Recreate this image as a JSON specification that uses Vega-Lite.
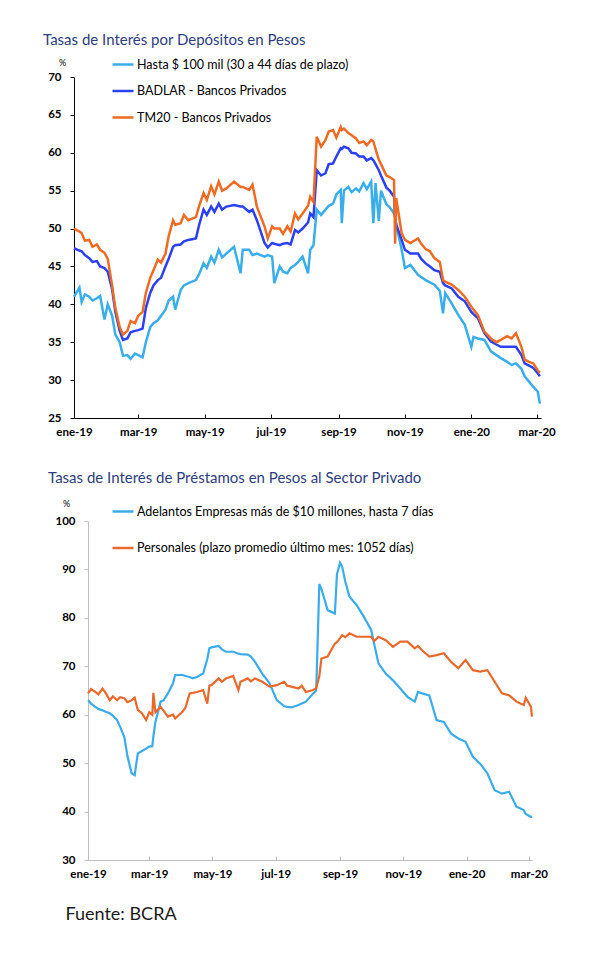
{
  "$schema": "https://vega.github.io/schema/vega-lite/v6.json",
  "background": "white",
  "padding": {"left": 43, "top": 32, "right": 10, "bottom": 10},
  "spacing": 33,
  "resolve": {"scale": {"color": "independent"}, "legend": {"color": "independent"}},
  "config": {
    "font": "Lato",
    "view": {"stroke": null},
    "axis": {"labelFont": "Lato", "titleFont": "Lato", "grid": false, "labelOverlap": false, "labelFlush": false},
    "legend": {"labelFont": "Lato"},
    "title": {"font": "Lato"}
  },
  "datasets": {
    "dep": [
      {"d":"2019-01-01","h":41.0,"b":47.4,"t":50.0},
      {"d":"2019-01-06","h":42.2,"b":47.1,"t":49.6},
      {"d":"2019-01-08","h":40.3,"b":47.0,"t":49.4},
      {"d":"2019-01-11","h":41.3,"b":46.5,"t":48.4},
      {"d":"2019-01-15","h":41.0,"b":46.1,"t":48.5},
      {"d":"2019-01-18","h":40.5,"b":45.6,"t":47.6},
      {"d":"2019-01-22","h":40.8,"b":45.7,"t":47.9},
      {"d":"2019-01-25","h":41.1,"b":45.0,"t":47.2},
      {"d":"2019-01-29","h":38.0,"b":44.8,"t":46.8},
      {"d":"2019-02-01","h":40.0,"b":44.3,"t":46.0},
      {"d":"2019-02-05","h":38.5,"b":42.0,"t":42.5},
      {"d":"2019-02-08","h":36.0,"b":39.0,"t":39.5},
      {"d":"2019-02-12","h":35.0,"b":36.5,"t":37.0},
      {"d":"2019-02-15","h":33.2,"b":35.3,"t":36.0},
      {"d":"2019-02-19","h":33.3,"b":35.5,"t":36.5},
      {"d":"2019-02-22","h":32.8,"b":36.3,"t":37.8},
      {"d":"2019-02-26","h":33.5,"b":36.5,"t":37.5},
      {"d":"2019-03-01","h":33.3,"b":36.6,"t":38.5},
      {"d":"2019-03-05","h":33.0,"b":36.8,"t":39.0},
      {"d":"2019-03-08","h":35.0,"b":39.5,"t":41.5},
      {"d":"2019-03-12","h":37.0,"b":41.5,"t":43.5},
      {"d":"2019-03-15","h":37.5,"b":42.5,"t":44.5},
      {"d":"2019-03-19","h":37.9,"b":43.2,"t":45.9},
      {"d":"2019-03-22","h":38.5,"b":43.5,"t":45.5},
      {"d":"2019-03-26","h":39.3,"b":45.0,"t":46.7},
      {"d":"2019-03-29","h":40.5,"b":46.0,"t":49.0},
      {"d":"2019-04-02","h":41.0,"b":47.6,"t":51.1},
      {"d":"2019-04-04","h":39.3,"b":47.8,"t":50.5},
      {"d":"2019-04-09","h":41.9,"b":47.9,"t":50.7},
      {"d":"2019-04-12","h":42.5,"b":48.3,"t":51.8},
      {"d":"2019-04-16","h":42.8,"b":48.5,"t":51.1},
      {"d":"2019-04-23","h":43.2,"b":48.7,"t":51.5},
      {"d":"2019-04-26","h":44.0,"b":50.5,"t":53.0},
      {"d":"2019-04-30","h":45.4,"b":52.5,"t":54.7},
      {"d":"2019-05-03","h":44.8,"b":51.8,"t":53.8},
      {"d":"2019-05-07","h":46.3,"b":52.9,"t":55.6},
      {"d":"2019-05-10","h":45.5,"b":52.2,"t":54.5},
      {"d":"2019-05-14","h":47.2,"b":53.3,"t":56.2},
      {"d":"2019-05-17","h":46.2,"b":52.5,"t":55.0},
      {"d":"2019-05-21","h":46.7,"b":52.9,"t":55.3},
      {"d":"2019-05-28","h":47.6,"b":53.1,"t":56.2},
      {"d":"2019-06-03","h":44.1,"b":52.9,"t":55.5},
      {"d":"2019-06-05","h":47.2,"b":52.9,"t":55.5},
      {"d":"2019-06-11","h":47.2,"b":52.2,"t":55.1},
      {"d":"2019-06-14","h":46.5,"b":52.5,"t":55.8},
      {"d":"2019-06-18","h":46.7,"b":51.1,"t":52.9},
      {"d":"2019-06-25","h":46.3,"b":48.1,"t":50.3},
      {"d":"2019-06-28","h":46.5,"b":47.5,"t":48.7},
      {"d":"2019-07-02","h":46.3,"b":48.1,"t":50.3},
      {"d":"2019-07-04","h":42.8,"b":48.0,"t":50.0},
      {"d":"2019-07-09","h":45.0,"b":47.8,"t":50.0},
      {"d":"2019-07-12","h":44.3,"b":48.0,"t":49.3},
      {"d":"2019-07-16","h":44.1,"b":48.1,"t":50.3},
      {"d":"2019-07-19","h":44.8,"b":47.9,"t":49.6},
      {"d":"2019-07-23","h":45.2,"b":49.8,"t":52.0},
      {"d":"2019-07-26","h":45.6,"b":49.5,"t":51.2},
      {"d":"2019-07-30","h":46.3,"b":50.0,"t":52.0},
      {"d":"2019-08-04","h":44.1,"b":50.8,"t":53.0},
      {"d":"2019-08-06","h":47.2,"b":52.0,"t":54.2},
      {"d":"2019-08-09","h":47.8,"b":51.5,"t":53.5},
      {"d":"2019-08-12","h":52.5,"b":57.7,"t":62.1},
      {"d":"2019-08-16","h":51.8,"b":57.0,"t":60.8},
      {"d":"2019-08-20","h":52.5,"b":57.3,"t":61.7},
      {"d":"2019-08-23","h":53.0,"b":58.5,"t":62.8},
      {"d":"2019-08-27","h":53.3,"b":58.6,"t":63.0},
      {"d":"2019-08-30","h":54.5,"b":59.5,"t":62.0},
      {"d":"2019-09-03","h":55.1,"b":60.6,"t":63.4},
      {"d":"2019-09-04","h":50.7,"b":60.5,"t":63.0},
      {"d":"2019-09-06","h":55.0,"b":60.8,"t":63.2},
      {"d":"2019-09-10","h":55.5,"b":60.6,"t":62.6},
      {"d":"2019-09-13","h":54.8,"b":60.0,"t":62.3},
      {"d":"2019-09-17","h":55.3,"b":59.9,"t":61.9},
      {"d":"2019-09-20","h":54.9,"b":59.5,"t":61.3},
      {"d":"2019-09-24","h":56.0,"b":59.5,"t":61.5},
      {"d":"2019-09-27","h":55.2,"b":59.0,"t":61.0},
      {"d":"2019-10-01","h":56.2,"b":59.3,"t":61.7},
      {"d":"2019-10-03","h":50.7,"b":59.0,"t":61.5},
      {"d":"2019-10-05","h":56.0,"b":58.5,"t":60.5},
      {"d":"2019-10-08","h":51.0,"b":57.7,"t":59.1},
      {"d":"2019-10-10","h":55.0,"b":57.0,"t":58.5},
      {"d":"2019-10-15","h":53.2,"b":55.4,"t":57.0},
      {"d":"2019-10-18","h":52.8,"b":55.0,"t":56.8},
      {"d":"2019-10-22","h":52.0,"b":54.2,"t":56.4},
      {"d":"2019-10-23","h":51.5,"b":51.5,"t":48.0},
      {"d":"2019-10-24","h":50.5,"b":50.5,"t":54.0},
      {"d":"2019-10-29","h":47.2,"b":48.5,"t":49.4},
      {"d":"2019-11-01","h":44.8,"b":47.2,"t":48.5},
      {"d":"2019-11-06","h":45.2,"b":46.7,"t":48.1},
      {"d":"2019-11-13","h":43.9,"b":46.7,"t":48.7},
      {"d":"2019-11-16","h":43.6,"b":46.0,"t":48.0},
      {"d":"2019-11-20","h":43.2,"b":45.4,"t":47.3},
      {"d":"2019-11-24","h":42.9,"b":45.0,"t":47.0},
      {"d":"2019-11-28","h":42.6,"b":44.5,"t":46.1},
      {"d":"2019-12-03","h":41.8,"b":44.3,"t":45.6},
      {"d":"2019-12-06","h":38.8,"b":42.8,"t":43.2},
      {"d":"2019-12-08","h":41.5,"b":42.5,"t":43.0},
      {"d":"2019-12-14","h":40.1,"b":42.1,"t":42.6},
      {"d":"2019-12-20","h":38.6,"b":41.0,"t":41.9},
      {"d":"2019-12-26","h":37.3,"b":40.4,"t":41.0},
      {"d":"2020-01-01","h":34.4,"b":39.0,"t":39.7},
      {"d":"2020-01-03","h":35.7,"b":38.7,"t":39.3},
      {"d":"2020-01-07","h":35.5,"b":38.2,"t":38.6},
      {"d":"2020-01-13","h":35.3,"b":36.2,"t":36.4},
      {"d":"2020-01-19","h":33.8,"b":35.1,"t":35.5},
      {"d":"2020-01-24","h":33.3,"b":34.7,"t":35.0},
      {"d":"2020-01-28","h":32.9,"b":34.4,"t":35.3},
      {"d":"2020-02-03","h":32.4,"b":34.4,"t":35.8},
      {"d":"2020-02-07","h":32.0,"b":34.4,"t":35.5},
      {"d":"2020-02-11","h":32.2,"b":34.4,"t":36.2},
      {"d":"2020-02-16","h":31.5,"b":33.3,"t":34.4},
      {"d":"2020-02-19","h":30.5,"b":32.2,"t":32.7},
      {"d":"2020-02-23","h":29.8,"b":31.9,"t":32.4},
      {"d":"2020-02-27","h":29.1,"b":31.6,"t":32.2},
      {"d":"2020-03-02","h":28.5,"b":30.9,"t":31.3},
      {"d":"2020-03-04","h":26.9,"b":30.5,"t":31.0}
    ],
    "pre": [
      {"d":"2019-01-01","a":63.0,"p":64.4},
      {"d":"2019-01-04","a":62.3,"p":65.3},
      {"d":"2019-01-08","a":61.6,"p":64.7},
      {"d":"2019-01-11","a":61.2,"p":64.2},
      {"d":"2019-01-15","a":60.9,"p":65.4},
      {"d":"2019-01-18","a":60.6,"p":64.5},
      {"d":"2019-01-22","a":60.3,"p":63.0},
      {"d":"2019-01-25","a":59.8,"p":63.8},
      {"d":"2019-01-29","a":58.9,"p":63.0},
      {"d":"2019-02-01","a":57.5,"p":63.6},
      {"d":"2019-02-05","a":55.4,"p":63.4},
      {"d":"2019-02-08","a":51.5,"p":62.6},
      {"d":"2019-02-12","a":47.9,"p":63.0},
      {"d":"2019-02-15","a":47.5,"p":63.5},
      {"d":"2019-02-18","a":52.0,"p":61.0},
      {"d":"2019-02-22","a":52.5,"p":60.3},
      {"d":"2019-02-26","a":53.0,"p":58.9},
      {"d":"2019-03-01","a":53.4,"p":60.5},
      {"d":"2019-03-04","a":53.5,"p":60.0},
      {"d":"2019-03-05","a":55.5,"p":64.5},
      {"d":"2019-03-07","a":58.5,"p":60.5},
      {"d":"2019-03-12","a":62.7,"p":61.6},
      {"d":"2019-03-15","a":63.0,"p":60.8},
      {"d":"2019-03-19","a":64.4,"p":59.6},
      {"d":"2019-03-24","a":66.5,"p":60.0},
      {"d":"2019-03-26","a":68.2,"p":59.2},
      {"d":"2019-04-02","a":68.2,"p":60.6},
      {"d":"2019-04-05","a":68.0,"p":61.5},
      {"d":"2019-04-09","a":67.8,"p":64.4},
      {"d":"2019-04-12","a":67.5,"p":64.5},
      {"d":"2019-04-16","a":67.8,"p":64.7},
      {"d":"2019-04-22","a":68.5,"p":65.1},
      {"d":"2019-04-26","a":71.5,"p":62.3},
      {"d":"2019-04-28","a":73.7,"p":66.0},
      {"d":"2019-04-30","a":73.9,"p":66.1},
      {"d":"2019-05-07","a":74.2,"p":67.5},
      {"d":"2019-05-10","a":73.5,"p":66.8},
      {"d":"2019-05-14","a":73.0,"p":67.5},
      {"d":"2019-05-21","a":73.0,"p":68.0},
      {"d":"2019-05-26","a":72.6,"p":65.1},
      {"d":"2019-05-28","a":72.5,"p":66.8},
      {"d":"2019-06-04","a":72.4,"p":67.5},
      {"d":"2019-06-07","a":72.0,"p":66.9},
      {"d":"2019-06-11","a":70.9,"p":67.5},
      {"d":"2019-06-18","a":68.5,"p":66.8},
      {"d":"2019-06-25","a":66.5,"p":65.8},
      {"d":"2019-07-02","a":63.0,"p":66.1},
      {"d":"2019-07-09","a":61.8,"p":66.8},
      {"d":"2019-07-12","a":61.6,"p":66.0},
      {"d":"2019-07-16","a":61.5,"p":65.8},
      {"d":"2019-07-23","a":62.0,"p":65.4},
      {"d":"2019-07-26","a":62.3,"p":66.0},
      {"d":"2019-07-30","a":62.7,"p":64.7},
      {"d":"2019-08-06","a":64.4,"p":65.1},
      {"d":"2019-08-09","a":65.0,"p":65.5},
      {"d":"2019-08-12","a":87.0,"p":68.0},
      {"d":"2019-08-14","a":86.0,"p":71.6},
      {"d":"2019-08-20","a":81.6,"p":72.0},
      {"d":"2019-08-27","a":80.9,"p":74.7},
      {"d":"2019-08-29","a":89.0,"p":75.0},
      {"d":"2019-09-01","a":91.4,"p":75.8},
      {"d":"2019-09-03","a":90.6,"p":76.4},
      {"d":"2019-09-06","a":87.5,"p":76.0},
      {"d":"2019-09-10","a":84.4,"p":76.8},
      {"d":"2019-09-17","a":82.6,"p":76.1},
      {"d":"2019-09-24","a":80.2,"p":76.1},
      {"d":"2019-10-01","a":77.5,"p":76.1},
      {"d":"2019-10-04","a":74.5,"p":75.2},
      {"d":"2019-10-08","a":70.6,"p":76.1},
      {"d":"2019-10-15","a":68.5,"p":75.4},
      {"d":"2019-10-22","a":67.1,"p":74.0},
      {"d":"2019-10-29","a":65.4,"p":75.1},
      {"d":"2019-11-05","a":63.7,"p":75.1},
      {"d":"2019-11-12","a":62.7,"p":73.7},
      {"d":"2019-11-15","a":64.7,"p":74.2},
      {"d":"2019-11-19","a":64.4,"p":73.3},
      {"d":"2019-11-26","a":64.0,"p":72.0},
      {"d":"2019-12-03","a":58.9,"p":72.3},
      {"d":"2019-12-10","a":58.5,"p":72.7},
      {"d":"2019-12-17","a":56.1,"p":70.9},
      {"d":"2019-12-24","a":55.1,"p":69.6},
      {"d":"2019-12-31","a":54.4,"p":71.3},
      {"d":"2020-01-07","a":51.3,"p":69.2},
      {"d":"2020-01-14","a":49.9,"p":68.9},
      {"d":"2020-01-21","a":47.9,"p":69.2},
      {"d":"2020-01-28","a":44.4,"p":66.8},
      {"d":"2020-02-04","a":43.7,"p":64.4},
      {"d":"2020-02-11","a":44.1,"p":64.0},
      {"d":"2020-02-18","a":41.0,"p":62.7},
      {"d":"2020-02-25","a":40.3,"p":62.0},
      {"d":"2020-02-27","a":39.5,"p":63.5},
      {"d":"2020-03-03","a":38.9,"p":61.6},
      {"d":"2020-03-04","a":39.0,"p":59.6}
    ]
  },
  "vconcat": [
    {
      "width": 467,
      "height": 341,
      "data": {"name": "dep"},
      "transform": [{"fold": ["h", "b", "t"], "as": ["s", "v"]}],
      "title": {"text": "Tasas de Interés por Depósitos en Pesos", "anchor": "start", "frame": "group", "dx": -31, "offset": 5, "fontSize": 15, "fontWeight": "normal", "color": "#2e3d7c"},
      "mark": {"type": "line", "strokeWidth": 2.5},
      "encoding": {
        "x": {
          "field": "d", "type": "temporal",
          "scale": {"type": "utc", "domain": [{"year": 2019, "month": 1, "date": 1, "utc": true}, {"year": 2020, "month": 3, "date": 5, "utc": true}]},
          "axis": {
            "title": null,
            "values": [{"year": 2019, "month": 1, "date": 1, "utc": true}, {"year": 2019, "month": 3, "date": 1, "utc": true}, {"year": 2019, "month": 5, "date": 1, "utc": true}, {"year": 2019, "month": 7, "date": 1, "utc": true}, {"year": 2019, "month": 9, "date": 1, "utc": true}, {"year": 2019, "month": 11, "date": 1, "utc": true}, {"year": 2020, "month": 1, "date": 1, "utc": true}, {"year": 2020, "month": 3, "date": 1, "utc": true}],
            "labelExpr": "['ene','feb','mar','abr','may','jun','jul','ago','sep','oct','nov','dic'][utcmonth(datum.value)] + '-' + utcFormat(datum.value, '%y')",
            "domainColor": "black", "tickColor": "black", "tickSize": -4, "labelPadding": 12,
            "labelFontWeight": "bold", "labelFontSize": 11.5, "labelColor": "black"
          }
        },
        "y": {
          "field": "v", "type": "quantitative",
          "scale": {"domain": [25, 70], "nice": false, "zero": false},
          "axis": {
            "title": "%", "titleAngle": 0, "titleX": -12, "titleY": -15, "titleAlign": "center", "titleBaseline": "middle", "titleFontSize": 9, "titleFontWeight": "normal", "titleColor": "black",
            "values": [25, 30, 35, 40, 45, 50, 55, 60, 65, 70],
            "domainColor": "black", "tickColor": "black", "tickSize": 4, "labelPadding": 9,
            "labelFontWeight": "bold", "labelFontSize": 11.5, "labelColor": "black"
          }
        },
        "color": {
          "field": "s", "type": "nominal",
          "scale": {"domain": ["h", "b", "t"], "range": ["#3aaeea", "#2b40f0", "#ee6b24"]},
          "legend": {
            "title": null, "orient": "none", "legendX": 37, "legendY": -24.5, "padding": 0,
            "symbolType": "stroke", "symbolSize": 441, "symbolStrokeWidth": 2.5,
            "labelFontSize": 12.5, "labelColor": "black", "labelOffset": 2, "rowPadding": 7.5, "labelLimit": 400,
            "labelExpr": "datum.value == 'h' ? 'Hasta $ 100 mil (30 a 44 días de plazo)' : datum.value == 'b' ? 'BADLAR - Bancos Privados' : 'TM20 - Bancos Privados'"
          }
        }
      }
    },
    {
      "width": 458,
      "height": 339,
      "data": {"name": "pre"},
      "transform": [{"fold": ["a", "p"], "as": ["s", "v"]}],
      "title": {"text": "Tasas de Interés de Préstamos en Pesos al Sector Privado", "anchor": "start", "frame": "group", "dx": -26, "offset": 13, "fontSize": 15, "fontWeight": "normal", "color": "#2e3d7c"},
      "mark": {"type": "line", "strokeWidth": 2.2},
      "encoding": {
        "x": {
          "field": "d", "type": "temporal",
          "scale": {"type": "utc", "range": [14, 458], "domain": [{"year": 2019, "month": 1, "date": 1, "utc": true}, {"year": 2020, "month": 3, "date": 4, "utc": true}]},
          "axis": {
            "title": "Fuente: BCRA", "titleX": -9, "titleY": 54, "titleAlign": "left", "titleBaseline": "middle", "titleFontSize": 18, "titleFontWeight": "normal", "titleColor": "#1a1a1a",
            "values": [{"year": 2019, "month": 1, "date": 1, "utc": true}, {"year": 2019, "month": 3, "date": 1, "utc": true}, {"year": 2019, "month": 5, "date": 1, "utc": true}, {"year": 2019, "month": 7, "date": 1, "utc": true}, {"year": 2019, "month": 9, "date": 1, "utc": true}, {"year": 2019, "month": 11, "date": 1, "utc": true}, {"year": 2020, "month": 1, "date": 1, "utc": true}, {"year": 2020, "month": 3, "date": 1, "utc": true}],
            "labelExpr": "['ene','feb','mar','abr','may','jun','jul','ago','sep','oct','nov','dic'][utcmonth(datum.value)] + '-' + utcFormat(datum.value, '%y')",
            "domainColor": "#bfbfbf", "tickColor": "#bfbfbf", "tickSize": -4, "labelPadding": 12,
            "labelFontWeight": "bold", "labelFontSize": 11.5, "labelColor": "black"
          }
        },
        "y": {
          "field": "v", "type": "quantitative",
          "scale": {"domain": [30, 100], "nice": false, "zero": false},
          "axis": {
            "offset": -14,
            "title": "%", "titleAngle": 0, "titleX": -22, "titleY": -18, "titleAlign": "center", "titleBaseline": "middle", "titleFontSize": 9, "titleFontWeight": "normal", "titleColor": "black",
            "values": [30, 40, 50, 60, 70, 80, 90, 100],
            "domainColor": "#bfbfbf", "tickColor": "#bfbfbf", "tickSize": 4, "labelPadding": 9,
            "labelFontWeight": "bold", "labelFontSize": 11.5, "labelColor": "black"
          }
        },
        "color": {
          "field": "s", "type": "nominal",
          "scale": {"domain": ["a", "p"], "range": ["#3aacec", "#e8692c"]},
          "legend": {
            "title": null, "orient": "none", "legendX": 37, "legendY": -21.5, "padding": 0,
            "symbolType": "stroke", "symbolSize": 441, "symbolStrokeWidth": 2.5,
            "labelFontSize": 12.5, "labelColor": "black", "labelOffset": 2, "rowPadding": 17.5, "labelLimit": 450,
            "labelExpr": "datum.value == 'a' ? 'Adelantos Empresas más de $10 millones, hasta 7 días' : 'Personales (plazo promedio último mes: 1052 días)'"
          }
        }
      }
    }
  ]
}
